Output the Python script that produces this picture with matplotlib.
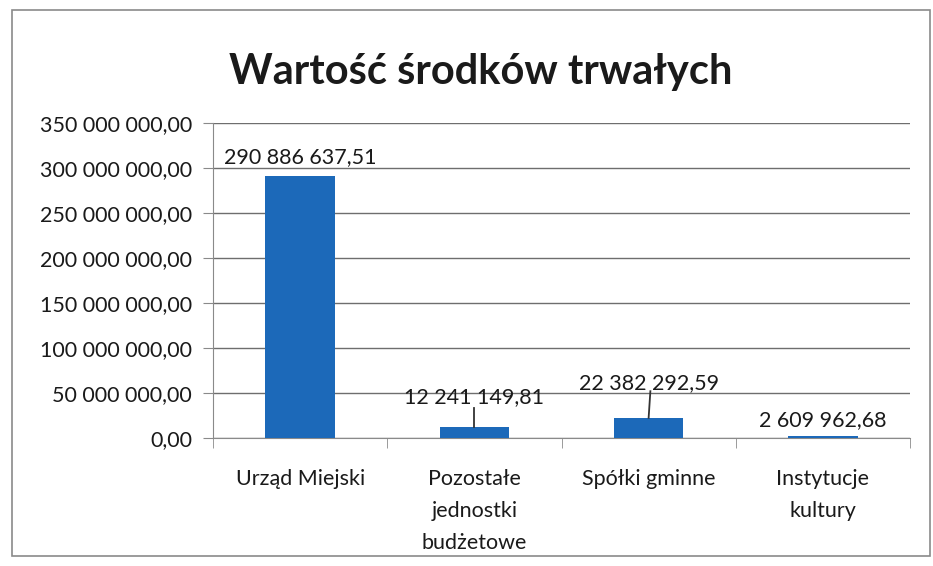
import matplotlib
matplotlib.use("Agg")
import matplotlib.pyplot as plt
from matplotlib.patches import Rectangle
from matplotlib.ticker import FuncFormatter

categories = ["Urząd Miejski", "Pozostałe\njednostki\nbudżetowe", "Spółki gminne", "Instytucje\nkultury"]
values = [290886637.51, 12241149.81, 22382292.59, 2609962.68]
value_labels = ["290 886 637,51", "12 241 149,81", "22 382 292,59", "2 609 962,68"]
yticks = [0, 50e6, 100e6, 150e6, 200e6, 250e6, 300e6, 350e6]

plt.rcParams['font.family'] = ['Lato', 'DejaVu Sans']

fig = plt.figure(figsize=(9.33, 5.66), dpi=100)
ax = fig.add_axes([213/933, 1-438/566, (910-213)/933, (438-123)/566])

x = list(range(len(categories)))
bar_color = "#1c69b9"
ax.bar(x, values, width=0.4, color=bar_color, zorder=3)
ax.set_xlim(-0.5, 3.5)
ax.set_ylim(0, 350e6)
ax.set_yticks(yticks)

def fmt(v, pos):
    s = f"{v:,.2f}".replace(",", " ").replace(".", ",")
    return s
ax.yaxis.set_major_formatter(FuncFormatter(fmt))
ax.grid(axis='y', color='#6e6e6e', linewidth=1.0, zorder=0)
ax.set_axisbelow(True)

for s in ['top', 'right']:
    ax.spines[s].set_visible(False)
ax.spines['left'].set_color('#8a8a8a')
ax.spines['bottom'].set_color('#8a8a8a')
ax.tick_params(axis='y', length=7, color='#8a8a8a', labelsize=15.5, labelcolor='#1a1a1a', pad=8)
ax.set_xticks(x)
ax.set_xticklabels(categories, fontsize=15.5, color='#1a1a1a', linespacing=1.75)
ax.tick_params(axis='x', length=0, pad=22)
# boundary ticks
ax.set_xticks([-0.5, 0.5, 1.5, 2.5, 3.5], minor=True)
ax.tick_params(axis='x', which='minor', length=7, color='#8a8a8a')

# data labels
label_pos = [(0, 312e6), (1, 45e6), (2, 61e6), (3, 20e6)]
for i, (v, lab) in enumerate(zip(values, value_labels)):
    lx, ly = label_pos[i]
    ax.text(lx, ly, lab, ha='center', va='center', fontsize=15.5, color='#1a1a1a', zorder=5)
# leader lines
ax.plot([1, 1], [values[1] + 0.5e6, 33e6], color='#333333', linewidth=1.3, zorder=4)
ax.plot([2, 2.01], [values[2], 52e6], color='#333333', linewidth=1.3, zorder=4)

fig.text(481/933, 1-72/566, "Wartość środków trwałych", ha='center', va='center',
         fontsize=30, fontweight='bold', color='#1a1a1a')

fig.patches.append(Rectangle((12/933, 1-556/566), (930-12)/933, (556-10)/566,
                             transform=fig.transFigure, fill=False, edgecolor='#8a8a8a', linewidth=1.2))

fig.savefig("out.png", dpi=100)
